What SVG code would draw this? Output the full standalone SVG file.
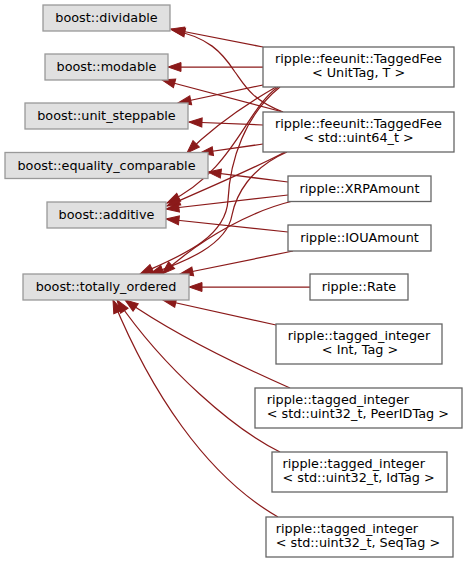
<svg xmlns="http://www.w3.org/2000/svg" width="468" height="562" viewBox="0 0 468 562">
<style>
text{font-family:"DejaVu Sans",sans-serif;font-size:12.8px;fill:#000}
.base rect{fill:#e0e0e0;stroke:#999999;stroke-width:1.3}
.der rect{fill:#ffffff;stroke:#666666;stroke-width:1.3}
.c{text-anchor:middle}
#edges path{fill:none;stroke:#8b1a1a;stroke-width:1.25;marker-end:url(#ah)}
</style>
<defs>
<marker id="ah" markerUnits="userSpaceOnUse" markerWidth="13" markerHeight="9" viewBox="0 0 13 9" refX="13" refY="4.5" orient="auto" overflow="visible">
<path d="M0,0 L13,4.5 L0,9 z" fill="#8b1a1a" stroke="#8b1a1a" stroke-width="1"/>
</marker>
</defs>
<rect width="468" height="562" fill="#ffffff"/>
<g id="edges">
<path d="M263,47 L171,29"/>
<path d="M283,112 C252,100 245,86 235,72 C222,52 208,37 172,30"/>
<path d="M263,67 L168,67"/>
<path d="M283,112 L162,80"/>
<path d="M263,85 L178,103"/>
<path d="M263,125 L189,122"/>
<path d="M263,144 L200,153"/>
<path d="M276,87 C250,102 215,125 187,153"/>
<path d="M278,87 C245,110 235,170 167,203"/>
<path d="M285,152 C255,168 215,185 167,206"/>
<path d="M280,87 C245,115 230,160 228,200 C226,240 175,258 140,274"/>
<path d="M287,152 C250,168 236,195 232,215 C227,245 185,262 150,274"/>
<path d="M288,182 L208,172"/>
<path d="M288,195 L166,209"/>
<path d="M293,201 C255,210 205,235 162,274"/>
<path d="M288,232 L166,219"/>
<path d="M293,251 L180,274"/>
<path d="M310,287 L189,287"/>
<path d="M276,325 L163,300"/>
<path d="M290,388 C240,366 175,335 125,300"/>
<path d="M280,452 C235,430 165,370 117,300"/>
<path d="M278,517 C205,475 150,390 113,300"/>
</g>
<g id="n_dividable" class="base"><rect x="43" y="5" width="127" height="26"/><text class="c" x="106.5" y="22">boost::dividable</text></g>
<g id="n_modable" class="base"><rect x="45" y="54" width="123" height="26"/><text class="c" x="106.5" y="71">boost::modable</text></g>
<g id="n_unit_steppable" class="base"><rect x="25" y="103" width="163" height="26"/><text class="c" x="106.5" y="120">boost::unit_steppable</text></g>
<g id="n_equality_comparable" class="base"><rect x="5" y="152.5" width="203" height="26"/><text class="c" x="106.5" y="169.5">boost::equality_comparable</text></g>
<g id="n_additive" class="base"><rect x="47" y="202" width="119" height="26"/><text class="c" x="106.5" y="219">boost::additive</text></g>
<g id="n_totally_ordered" class="base"><rect x="23" y="274" width="166" height="26"/><text class="c" x="106" y="291">boost::totally_ordered</text></g>
<g id="n_taggedfee_t" class="der"><rect x="263" y="47" width="191" height="40"/><text class="c" x="358.5" y="63.3">ripple::feeunit::TaggedFee</text><text class="c" x="358.5" y="77.3">&lt; UnitTag, T &gt;</text></g>
<g id="n_taggedfee_u64" class="der"><rect x="263" y="112" width="191" height="40"/><text class="c" x="358.5" y="128.3">ripple::feeunit::TaggedFee</text><text class="c" x="358.5" y="142.3">&lt; std::uint64_t &gt;</text></g>
<g id="n_xrpamount" class="der"><rect x="288" y="176" width="143" height="25.5"/><text class="c" x="359.5" y="192.7">ripple::XRPAmount</text></g>
<g id="n_iouamount" class="der"><rect x="288" y="225" width="143" height="26"/><text class="c" x="359.5" y="242">ripple::IOUAmount</text></g>
<g id="n_rate" class="der"><rect x="310" y="274" width="98" height="26"/><text class="c" x="359" y="291">ripple::Rate</text></g>
<g id="n_ti_int" class="der"><rect x="276" y="324" width="166" height="40"/><text class="c" x="359" y="340.3">ripple::tagged_integer</text><text class="c" x="360" y="354.3">&lt; Int, Tag &gt;</text></g>
<g id="n_ti_peer" class="der"><rect x="255" y="388" width="207" height="40"/><text x="266.7" y="404.3">ripple::tagged_integer</text><text x="266.7" y="418.3">&lt; std::uint32_t, PeerIDTag &gt;</text></g>
<g id="n_ti_id" class="der"><rect x="272" y="452" width="175" height="40"/><text x="282.5" y="468.3">ripple::tagged_integer</text><text x="282.5" y="482.3">&lt; std::uint32_t, IdTag &gt;</text></g>
<g id="n_ti_seq" class="der"><rect x="266" y="517" width="187" height="40"/><text x="275.7" y="533.3">ripple::tagged_integer</text><text x="275.7" y="547.3">&lt; std::uint32_t, SeqTag &gt;</text></g>
</svg>
